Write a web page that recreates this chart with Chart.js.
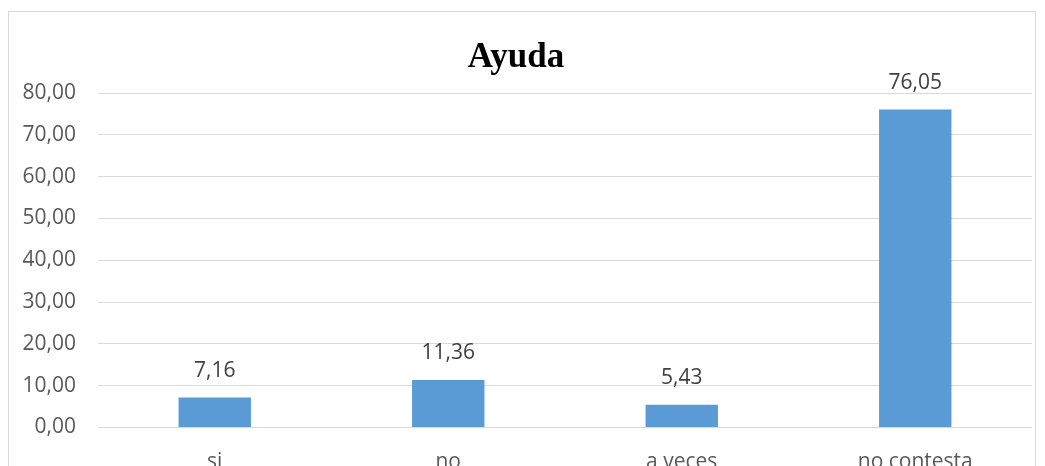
<!DOCTYPE html>
<html>
<head>
<meta charset="utf-8">
<script src="https://cdn.jsdelivr.net/npm/chart.js@4/dist/chart.umd.min.js"></script>
<style>
  html, body { margin: 0; padding: 0; background: #fff; overflow: hidden; }
  #wrap { position: relative; width: 1045px; height: 466px; overflow: hidden; }
  #frame { position: absolute; left: 8px; top: 11px; width: 1026px; height: 480px; border: 1px solid #d9d9d9; }
  canvas { position: absolute; left: 0; top: 0; }
</style>
</head>
<body>
<div id="wrap">
  <div id="frame"></div>
  <canvas id="chart" width="1045" height="490"></canvas>
</div>
<script>
  // valores
  var categorias = ['si', 'no', 'a veces', 'no contesta'];
  var valores = [7.16, 11.36, 5.43, 76.05];
  var yTicks = [0, 10, 20, 30, 40, 50, 60, 70, 80];

  function coma(v) {
    return v.toFixed(2).replace('.', ',');
  }

  // etiquetas de datos encima de cada barra
  var etiquetas = {
    id: 'etiquetas',
    afterDatasetsDraw: function(chart) {
      var ctx = chart.ctx;
      var meta = chart.getDatasetMeta(0);
      ctx.save();
      ctx.font = '21px "Open Sans"';
      ctx.fillStyle = '#404040';
      ctx.textAlign = 'center';
      ctx.textBaseline = 'middle';
      meta.data.forEach(function(bar, i) {
        var p = bar.getProps(['x', 'y'], true);
        ctx.fillText(coma(valores[i]), p.x, p.y - 27);
      });
      ctx.restore();
    }
  };

  var ctx = document.getElementById('chart').getContext('2d');

  new Chart(ctx, {
    type: 'bar',
    data: {
      labels: categorias,
      datasets: [{
        data: valores,
        backgroundColor: '#5b9bd5',
        borderWidth: 0,
        categoryPercentage: 1,
        barPercentage: 0.31
      }]
    },
    options: {
      responsive: false,
      animation: false,
      layout: { padding: { left: 0, right: 13, top: 0, bottom: 0 } },
      plugins: {
        legend: { display: false },
        tooltip: { enabled: false },
        title: {
          display: true,
          text: 'Ayuda',
          color: '#000',
          font: { family: '"Liberation Serif", "Times New Roman", serif', size: 35, weight: 'bold' },
          padding: { top: 37, bottom: 14 }
        }
      },
      scales: {
        x: {
          grid: { display: false, drawTicks: false },
          border: { display: false },
          ticks: {
            color: '#595959',
            font: { family: '"Open Sans"', size: 21 },
            padding: 22
          },
          afterFit: function(scale) { scale.height = 490 - 427.5; }
        },
        y: {
          min: 0,
          max: 80,
          afterBuildTicks: function(scale) {
            scale.ticks = yTicks.map(function(v) { return { value: v }; });
          },
          grid: { color: '#d9d9d9', lineWidth: 1, drawTicks: false },
          border: { display: false },
          ticks: {
            color: '#595959',
            font: { family: '"Open Sans"', size: 21 },
            padding: 22,
            callback: function(v) { return coma(v); }
          },
          afterFit: function(scale) { scale.width = 98; }
        }
      }
    },
    plugins: [etiquetas]
  });
</script>
</body>
</html>
